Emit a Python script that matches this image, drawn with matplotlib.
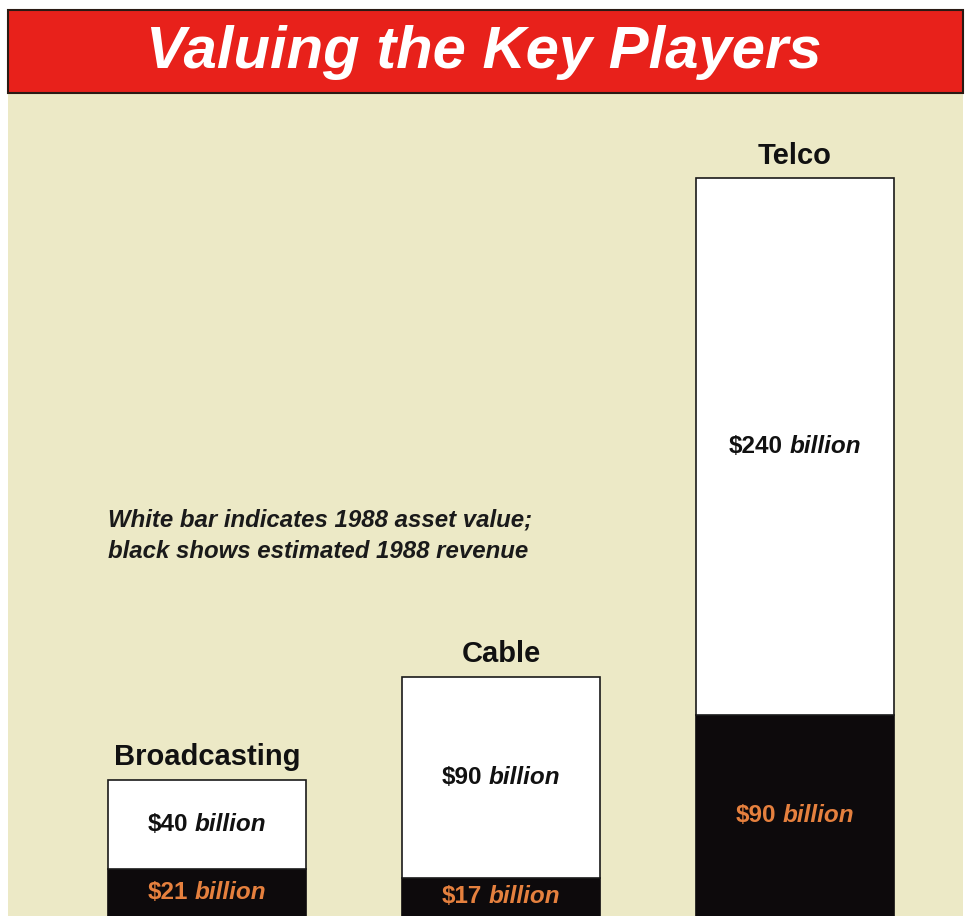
import matplotlib.pyplot as plt
from matplotlib.patches import Rectangle
from matplotlib.offsetbox import TextArea, HPacker, AnnotationBbox

categories = ['Broadcasting', 'Cable', 'Telco']
asset_value = [40, 90, 240]      # white bars, $ billion
revenue = [21, 17, 90]           # black bars, $ billion

W, H = 968, 916
BEIGE = '#ece9c6'
RED = '#e8211b'
ORANGE = '#e5803e'

fig = plt.figure(figsize=(W / 100, H / 100), dpi=100, facecolor='white')

# beige panel and red title banner
fig.patches.append(Rectangle((8 / W, 0), 955 / W, (H - 92) / H, transform=fig.transFigure,
                             facecolor=BEIGE, edgecolor='none', zorder=0))
fig.patches.append(Rectangle((8 / W, (H - 93) / H), 955 / W, 83 / H, transform=fig.transFigure,
                             facecolor=RED, edgecolor='#2a1a14', linewidth=1.5, zorder=1))
fig.text(0.5, (H - 52) / H, 'Valuing the Key Players', ha='center', va='center',
         color='white', fontsize=43, fontweight='bold', style='italic',
         family=['Liberation Sans Narrow', 'Liberation Sans'], zorder=3)

ax = fig.add_axes([8 / W, 0, 955 / W, (H - 93) / H])
ax.set_zorder(5)
ax.patch.set_visible(False)
x = list(range(len(categories)))
bw = 198 / 294
ax.bar(x, revenue, width=bw, color='#0d0a0c', edgecolor='#0d0a0c', linewidth=1.2)
ax.bar(x, asset_value, width=bw, bottom=revenue, color='white', edgecolor='#1a1a1a', linewidth=1.2)
ax.set_xlim(-199 / 294, 2 + 168 / 294)
ax.set_ylim(0, 368)
ax.axis('off')

lab_font = ['Liberation Sans', 'DejaVu Sans']


def money_label(xc, yc, amount, color):
    amt = TextArea('$%d' % amount, textprops=dict(color=color, fontsize=17.5, fontweight='bold',
                                                   family=lab_font))
    word = TextArea('billion', textprops=dict(color=color, fontsize=17.5, fontweight='bold',
                                              style='italic', family=lab_font))
    box = HPacker(children=[amt, word], align='baseline', pad=0, sep=5)
    ab = AnnotationBbox(box, (xc, yc), frameon=False, box_alignment=(0.5, 0.5), pad=0)
    ax.add_artist(ab)


for i, cat in enumerate(categories):
    top = revenue[i] + asset_value[i]
    ax.annotate(cat, (x[i], top), xytext=(0, 6), textcoords='offset points',
                ha='center', va='bottom', fontsize=21, fontweight='bold', family=lab_font,
                color='#111111')
    money_label(x[i], revenue[i] + asset_value[i] / 2, asset_value[i], '#111111')
    money_label(x[i], revenue[i] / 2, revenue[i], ORANGE)

ax.text(100 / 955, (H - 536) / (H - 93),
        'White bar indicates 1988 asset value;\nblack shows estimated 1988 revenue',
        transform=ax.transAxes, ha='left', va='center', fontsize=17.3, style='italic',
        fontweight='bold', family=lab_font, color='#1a1a1a', linespacing=1.45)

fig.savefig('out.png', dpi=100, facecolor='white')
